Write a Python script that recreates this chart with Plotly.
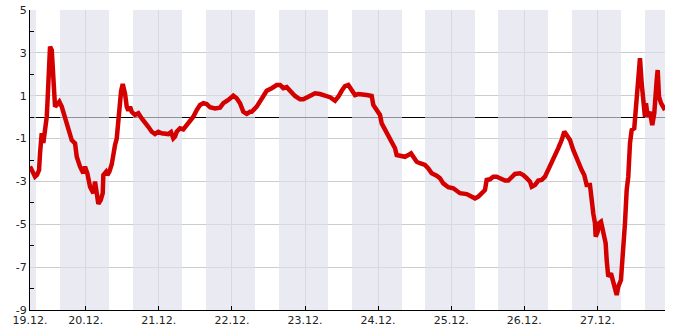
import pandas as pd
import plotly.graph_objects as go

# hours since 19.12. 00:00 and temperature values
hours = [5.7, 6.5, 7.35, 8.0, 8.67, 9.0, 9.55, 10.08, 10.64, 11.2, 11.52, 11.95, 12.28, 12.84,
         13.17, 13.6, 13.92, 14.48, 15.33, 16.12, 17.2, 18.29, 19.4, 20.49, 21.05, 22.13, 23.21,
         23.77, 24.53, 25.41, 26.5, 27.05, 27.61, 28.14, 28.92, 29.58, 29.78, 30.66, 31.09, 31.75,
         32.54, 32.96, 33.62, 34.18, 34.6, 35.1, 35.6, 36.15, 36.57, 36.9, 37.46, 37.99, 38.54,
         39.1, 40.19, 41.27, 42.39, 43.47, 44.55, 45.67, 46.75, 47.83, 48.95, 51.12, 52.0, 52.76,
         53.32, 53.88, 54.96, 56.04, 57.16, 58.24, 59.33, 60.44, 61.53, 62.61, 63.73, 64.81, 66.45,
         68.09, 69.18, 70.82, 72.46, 73.57, 74.66, 75.74, 76.86, 77.94, 78.5, 80.14, 81.78, 83.42,
         85.06, 86.71, 87.79, 88.87, 89.99, 91.07, 92.71, 94.36, 95.44, 97.08, 99.28, 100.92,
         102.56, 104.2, 105.85, 106.93, 108.05, 109.13, 110.21, 111.33, 112.41, 113.49, 114.61,
         116.25, 117.89, 118.42, 119.54, 120.62, 121.18, 122.26, 123.35, 124.46, 125.55, 126.1,
         127.19, 128.83, 129.91, 130.8, 131.55, 132.67, 133.75, 135.39, 136.48, 137.59, 139.23,
         140.32, 141.4, 143.05, 144.69, 145.8, 146.89, 149.09, 150.73, 151.81, 152.9, 154.01,
         155.09, 155.65, 156.73, 157.82, 158.93, 160.02, 161.66, 162.74, 163.86, 164.94, 166.58,
         167.67, 168.78, 169.87, 170.43, 171.51, 172.59, 173.71, 174.79, 175.87, 176.99, 178.07,
         179.16, 180.27, 181.13, 181.92, 183.0, 184.08, 184.97, 185.72, 186.84, 187.69, 188.48,
         189.56, 189.89, 190.65, 191.21, 191.44, 192.1, 192.52, 193.18, 193.93, 194.72, 195.05,
         195.57, 196.46, 197.21, 197.77, 198.33, 198.86, 199.74, 200.5, 201.06, 201.62, 202.14,
         202.7, 203.26, 204.11, 204.57, 205.09, 205.65, 205.98, 206.54, 207.06, 207.62, 207.95,
         208.51, 209.26, 210.02, 210.68, 211.14, 211.47, 211.8, 212.23, 212.89, 213.64, 214.2]
temps = [-2.3, -2.5, -2.78, -2.7, -2.47, -1.68, -0.75, -1.2, -0.6, 0.02, 0.95, 2.99, 3.29, 3.13,
         2.2, 1.42, 0.49, 0.57, 0.72, 0.49, 0.02, -0.52, -1.07, -1.22, -1.85, -2.31, -2.62,
         -2.31, -2.62, -3.25, -3.55, -3.01, -3.71, -4.05, -3.87, -3.55, -2.7, -2.55, -2.7, -2.55,
         -2.2, -1.7, -1.3, -1.0, -0.2, 0.6, 1.2, 1.55, 1.35, 1.1, 0.49, 0.3, 0.49,
         0.25, 0.1, 0.18, -0.06, -0.3, -0.45, -0.68, -0.79, -0.68, -0.75, -0.79, -0.7, -0.99,
         -0.91, -0.68, -0.52, -0.57, -0.37, -0.13, 0.02, 0.33, 0.57, 0.65, 0.61, 0.46, 0.41,
         0.44, 0.65, 0.8, 1.0, 0.88, 0.65, 0.25, 0.15, 0.25, 0.25, 0.49, 0.88, 1.23,
         1.35, 1.5, 1.5, 1.35, 1.4, 1.23, 0.99, 0.83, 0.83, 0.95, 1.11, 1.08,
         0.99, 0.93, 0.77, 0.95, 1.23, 1.45, 1.5, 1.27, 1.03, 1.08, 1.08,
         1.03, 0.99, 0.57, 0.33, 0.1, -0.29, -0.6, -0.91, -1.15, -1.45, -1.77,
         -1.81, -1.85, -1.77, -1.69, -1.85, -2.08, -2.15, -2.23, -2.39, -2.62, -2.73,
         -2.85, -3.09, -3.27, -3.32, -3.45, -3.55, -3.59, -3.71, -3.79, -3.71, -3.55,
         -3.4, -2.93, -2.9, -2.78, -2.78, -2.85, -2.96, -2.96, -2.78, -2.65, -2.62,
         -2.7, -2.85, -3.01, -3.25, -3.17, -2.96, -2.93, -2.78, -2.47, -2.15, -1.77,
         -1.45, -1.07, -0.68, -0.83, -1.07, -1.53, -1.85, -2.2, -2.47, -2.7, -3.17,
         -3.17, -3.71, -4.49, -4.95, -5.58, -5.34, -4.95, -4.88, -5.34, -5.89, -6.67,
         -7.44, -7.29, -7.6, -7.99, -8.3, -7.91, -7.6, -6.2, -4.95, -3.4, -2.78,
         -1.22, -0.6, -0.52, 0.33, 1.42, 2.36, 2.75, 1.58, 0.49, 0.02, 0.65,
         0.02, 0.25, -0.37, 0.18, 1.42, 1.73, 2.2, 0.95, 0.65, 0.49, 0.33]

day_labels = ["19.12.", "20.12.", "21.12.", "22.12.", "23.12.", "24.12.", "25.12.", "26.12.", "27.12."]
y_labels = [5, 3, 1, -1, -3, -5, -7, -9]
y_minor = [4, 2, 0, -2, -4, -6, -8]
# night periods (hours since 19.12. 00:00): dusk / dawn
night_start = [-8.5, 15.5, 39.5, 63.5, 87.5, 111.5, 135.5, 159.5, 183.5, 207.5]
night_end = [7.7, 31.7, 55.7, 79.7, 103.7, 127.7, 151.7, 175.7, 199.7, 223.7]
y_min, y_max = -9, 5

base = pd.Timestamp("2016-12-19 00:00")
t = [base + pd.Timedelta(hours=h) for h in hours]
x_start = t[0]
x_end = t[-1]

tickvals = [x_start] + [base + pd.Timedelta(days=i) for i in range(1, len(day_labels))]

night_mid = [base + pd.Timedelta(hours=(s + e) / 2) for s, e in zip(night_start, night_end)]
night_width = [(e - s) * 3600 * 1000 for s, e in zip(night_start, night_end)]

fig = go.Figure()
# night bands as a translucent bar trace (drawn above grid/zero lines, below the data line)
fig.add_trace(go.Bar(x=night_mid, y=[y_max - y_min] * len(night_mid), base=y_min,
                     width=night_width, marker=dict(color="rgba(222,222,235,0.65)", line_width=0),
                     hoverinfo="skip"))
fig.add_trace(go.Scatter(x=t, y=temps, mode="lines",
                         line=dict(color="#d40000", width=4.5), hoverinfo="skip"))

fig.update_layout(
    width=685, height=330, margin=dict(l=30, r=20, t=10, b=20),
    paper_bgcolor="white", plot_bgcolor="white", showlegend=False, bargap=0,
    font=dict(family="DejaVu Sans", size=11, color="#222222"),
    xaxis=dict(range=[x_start, x_end], tickvals=tickvals, ticktext=day_labels, automargin=False,
               showgrid=True, gridcolor="#cccccc", gridwidth=1,
               ticks="inside", ticklen=4, tickcolor="black",
               showline=True, linecolor="black", linewidth=1, zeroline=False),
    yaxis=dict(range=[y_min, y_max], tickvals=y_labels, ticktext=[str(v) for v in y_labels], automargin=False,
               showgrid=True, gridcolor="#cccccc", gridwidth=1,
               ticks="", showline=True, linecolor="black", linewidth=1,
               zeroline=True, zerolinecolor="black", zerolinewidth=1,
               minor=dict(tickvals=y_minor, ticks="inside", ticklen=4, tickcolor="black", showgrid=False)),
)

fig.write_html("out.html")
